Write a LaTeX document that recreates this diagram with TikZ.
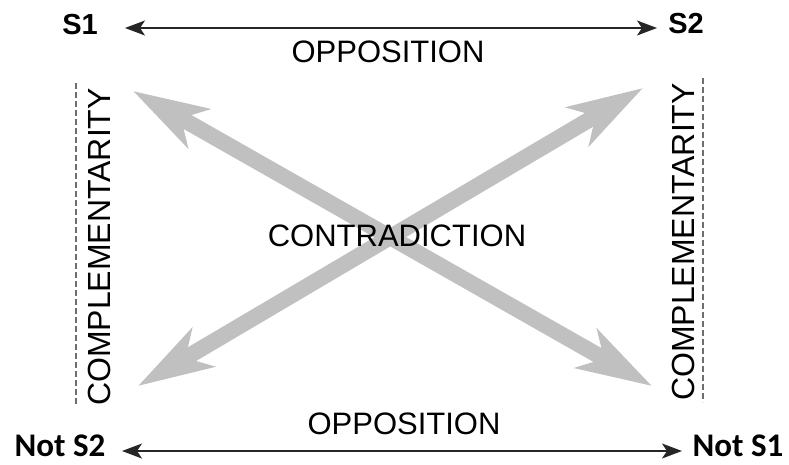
\documentclass[tikz,border=0pt]{standalone}
\usepackage{fontspec}
\setmainfont{Liberation Sans}
\newfontfamily\calfont{Carlito}
\usetikzlibrary{arrows.meta}
\definecolor{biggray}{RGB}{192,192,192}
\definecolor{dashgray}{RGB}{110,110,110}
\tikzset{
  lbl/.style={inner sep=0pt, font=\fontsize{31}{36}\selectfont},
  vlbl/.style={inner sep=0pt, rotate=90, font=\fontsize{32}{36}\selectfont},
  corner/.style={inner sep=0pt, font=\fontsize{29}{34}\selectfont\bfseries},
  notcorner/.style={inner sep=0pt, font=\fontsize{33}{38}\selectfont\calfont\bfseries},
  opparrow/.style={draw=black!85, line width=1.3pt,
    {Stealth[length=20pt,width=15pt,inset=5pt]}-{Stealth[length=20pt,width=15pt,inset=5pt]}},
  bigarrow/.style={draw=biggray, line width=16pt,
    {Stealth[length=75pt,width=44pt,inset=20pt]}-{Stealth[length=75pt,width=44pt,inset=20pt]}},
  compline/.style={draw=dashgray, line width=1.4pt, dash pattern=on 6pt off 3pt}
}
\begin{document}
\begin{tikzpicture}[x=1pt,y=-1pt]
\useasboundingbox (0,0) rectangle (789,464);
% connector end points
\coordinate (t1) at (125,28);
\coordinate (t2) at (657,28);
\coordinate (b1) at (122,451);
\coordinate (b2) at (682,451);
\coordinate (tl) at (133,91);
\coordinate (br) at (652,386);
\coordinate (bl) at (138,386);
\coordinate (tr) at (643,88);
\coordinate (dl1) at (76,83);
\coordinate (dl2) at (76,404);
\coordinate (dr1) at (703,78);
\coordinate (dr2) at (703,402);
% big gray arrows
\draw[bigarrow] (tl) -- (br);
\draw[bigarrow] (bl) -- (tr);
% corner labels
\node[corner] (S1) at (80,25) {S1};
\node[corner] (S2) at (686,24) {S2};
\node[notcorner] (NS2) at (60,446) {Not S2};
\node[notcorner] (NS1) at (738,446) {Not S1};
% relation labels
\node[lbl] (oppT) at (388,52) {OPPOSITION};
\node[lbl] (oppB) at (404,424) {OPPOSITION};
\node[lbl] (contra) at (397,236) {CONTRADICTION};
\node[vlbl] (compL) at (99,247) {COMPLEMENTARITY};
\node[vlbl] (compR) at (683,242) {COMPLEMENTARITY};
% opposition arrows
\draw[opparrow] (t1) -- (t2);
\draw[opparrow] (b1) -- (b2);
% complementarity dashed lines
\draw[compline] (dl1) -- (dl2);
\draw[compline] (dr1) -- (dr2);
\end{tikzpicture}
\end{document}
